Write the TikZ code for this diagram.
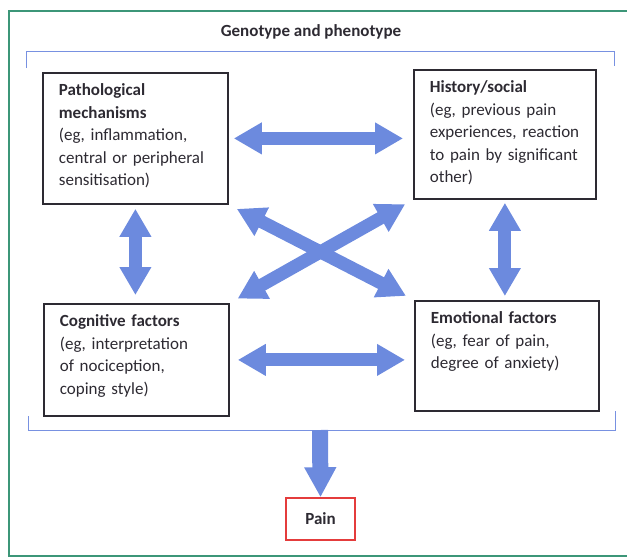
\documentclass[tikz,border=0pt]{standalone}
\usepackage{fontspec}
\setmainfont{Carlito}
\usetikzlibrary{arrows.meta}
\definecolor{arrowblue}{RGB}{108,138,222}
\definecolor{framegreen}{RGB}{60,150,120}
\definecolor{bracketblue}{RGB}{120,145,225}
\definecolor{painred}{RGB}{228,60,60}
\definecolor{inkgray}{RGB}{45,42,50}

\begin{document}
\begin{tikzpicture}[x=1pt,y=-1pt,
  factor/.style={draw=inkgray, line width=1.8pt, anchor=north west, align=left,
    inner xsep=16pt, inner ysep=0pt, text height=23pt, text=inkgray,
    font=\fontsize{17}{22.5}\selectfont},
  fatarrow/.style={arrowblue, line width=13pt,
    {Triangle[width=30pt,length=28pt]}-{Triangle[width=30pt,length=28pt]}}]
  \useasboundingbox (0,0) rectangle (627,558);

  % Outer frame
  \draw[framegreen, line width=1.2pt] (627,11) -- (9,11) -- (9,556) -- (627,556);

  % Genotype and phenotype bracket
  \node[font=\bfseries\fontsize{17}{20}\selectfont, text=inkgray] (title) at (311,32) {Genotype and phenotype};
  \draw[bracketblue, line width=1pt] (26,68) -- (26,51) -- (614,51) -- (614,66);
  \draw[bracketblue, line width=1pt] (28,416) -- (28,430) -- (615,430) -- (615,411);
  \coordinate (genobottom) at (320,430);

  % Factor boxes
  \node[factor, text width=153pt, text depth=108pt] (patho) at (42,72)
    {\textbf{Pathological}\\\textbf{mechanisms}\\(eg, inflammation,\\central or peripheral\\sensitisation)};
  \node[factor, text width=150pt, text depth=106pt] (hist) at (413,69)
    {\textbf{History/social}\\(eg, previous pain\\experiences, reaction\\to pain by significant\\other)};
  \node[factor, text width=153pt, text depth=89pt] (cog) at (43,303)
    {\textbf{Cognitive factors}\\(eg, interpretation\\of nociception,\\coping style)};
  \node[factor, text width=152pt, text depth=87pt] (emo) at (414,300)
    {\textbf{Emotional factors}\\(eg, fear of pain,\\degree of anxiety)};

  % Outcome
  \node[draw=painred, line width=1.5pt, minimum width=69pt, minimum height=42pt,
    font=\bfseries\fontsize{17}{20}\selectfont, text=inkgray] (pain) at (320.5,519) {Pain};

  % Interactions between factors
  \draw[fatarrow, shorten <=5pt, shorten >=10pt] (patho.east) -- (patho.east -| hist.west);
  \draw[fatarrow, shorten <=8pt, shorten >=9pt] (cog.east) -- (cog.east -| emo.west);
  \draw[fatarrow, shorten <=4pt, shorten >=8pt] (patho.south) -- (patho.south |- cog.north);
  \draw[fatarrow, shorten <=3pt, shorten >=4pt] (hist.south) -- (hist.south |- emo.north);
  \draw[fatarrow, shorten <=9pt, shorten >=9pt] (patho.south east) -- (emo.north west);
  \draw[fatarrow, shorten <=9pt, shorten >=9pt] (cog.north east) -- (hist.south west);

  % Everything leads to pain
  \draw[arrowblue, line width=16pt, -{Triangle[width=30pt,length=30pt]}] (genobottom) -- (pain.north);
\end{tikzpicture}
\end{document}
